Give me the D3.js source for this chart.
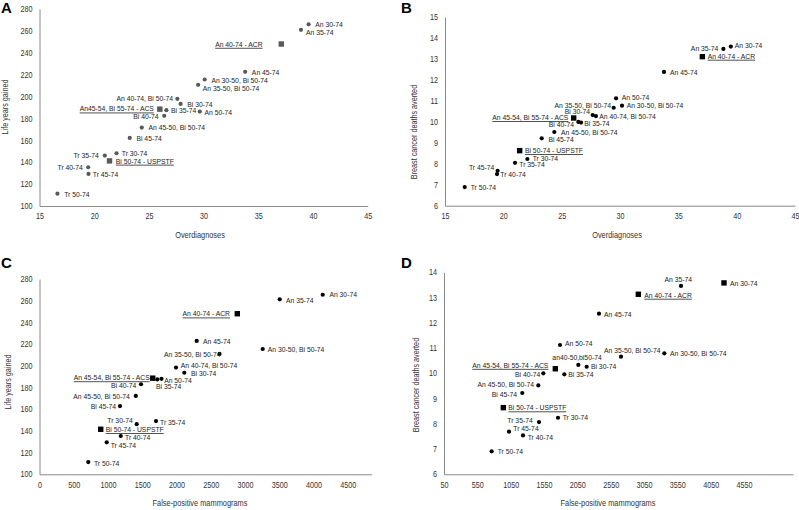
<!DOCTYPE html>
<html>
<head>
<meta charset="utf-8">
<script src="https://cdn.jsdelivr.net/npm/d3@7"></script>
<style>
body { margin: 0; background: #fff; }
svg { font-family: "Liberation Sans", Arial, sans-serif; }
</style>
</head>
<body>
<svg id="chart" width="799" height="510"></svg>
<script>
// each row: strategy label, x value, y value, marker ("pt" dot / "rec" square)
var pointsA = [
  ["An 30-74", 39.6, 266, "pt"],
  ["An 35-74", 38.9, 261, "pt"],
  ["An 40-74 - ACR", 37.1, 248, "rec"],
  ["An 45-74", 33.8, 222.6, "pt"],
  ["An 30-50, Bi 50-74", 30.1, 215.6, "pt"],
  ["An 35-50, Bi 50-74", 29.5, 210.7, "pt"],
  ["An 40-74, Bi 50-74", 27.6, 197.9, "pt"],
  ["Bi 30-74", 27.9, 193.3, "pt"],
  ["An45-54, Bi 55-74 - ACS", 26.0, 188.5, "rec"],
  ["Bi 35-74", 26.6, 187.6, "pt"],
  ["An 50-74", 29.65, 186.3, "pt"],
  ["Bi 40-74", 26.4, 182.4, "pt"],
  ["An 45-50, Bi 50-74", 24.35, 171.7, "pt"],
  ["Bi 45-74", 23.25, 162.2, "pt"],
  ["Tr 35-74", 20.97, 146.1, "pt"],
  ["Tr 30-74", 22.04, 148.2, "pt"],
  ["Bi 50-74 - USPSTF", 21.4, 141.2, "rec"],
  ["Tr 40-74", 19.45, 135.4, "pt"],
  ["Tr 45-74", 19.48, 129.3, "pt"],
  ["Tr 50-74", 16.64, 111.3, "pt"]
];

var pointsB = [
  ["An 30-74", 39.5, 13.6, "pt"],
  ["An 35-74", 38.86, 13.49, "pt"],
  ["An 40-74 - ACR", 37.06, 13.12, "rec"],
  ["An 45-74", 33.77, 12.39, "pt"],
  ["An 50-74", 29.66, 11.13, "pt"],
  ["An 35-50, Bi 50-74", 29.46, 10.68, "pt"],
  ["An 30-50, Bi 50-74", 30.17, 10.78, "pt"],
  ["Bi 30-74", 27.66, 10.33, "pt"],
  ["An 40-74, Bi 50-74", 27.94, 10.28, "pt"],
  ["An 45-54, Bi 55-74 - ACS", 26.03, 10.19, "rec"],
  ["Bi 40-74", 26.43, 10.0, "pt"],
  ["Bi 35-74", 26.66, 9.97, "pt"],
  ["An 45-50, Bi 50-74", 24.37, 9.52, "pt"],
  ["Bi 45-74", 23.29, 9.22, "pt"],
  ["Bi 50-74 - USPSTF", 21.4, 8.63, "rec"],
  ["Tr 30-74", 22.06, 8.23, "pt"],
  ["Tr 35-74", 21.0, 8.05, "pt"],
  ["Tr 45-74", 19.51, 7.67, "pt"],
  ["Tr 40-74", 19.46, 7.51, "pt"],
  ["Tr 50-74", 16.69, 6.89, "pt"]
];

var pointsC = [
  ["An 30-74", 4135, 265.5, "pt"],
  ["An 35-74", 3507, 261.3, "pt"],
  ["An 40-74 - ACR", 2888, 248.0, "rec"],
  ["An 45-74", 2295, 222.9, "pt"],
  ["An 30-50, Bi 50-74", 3259, 215.5, "pt"],
  ["An 35-50, Bi 50-74", 2628, 210.9, "pt"],
  ["An 40-74, Bi 50-74", 1993, 198.4, "pt"],
  ["Bi 30-74", 2114, 193.6, "pt"],
  ["An 45-54, Bi 55-74 - ACS", 1653, 188.6, "rec"],
  ["Bi 35-74", 1720, 187.4, "pt"],
  ["An 50-74", 1781, 188.0, "pt"],
  ["Bi 40-74", 1482, 183.0, "pt"],
  ["An 45-50, Bi 50-74", 1406, 172.2, "pt"],
  ["Bi 45-74", 1175, 162.9, "pt"],
  ["Tr 30-74", 1419, 146.2, "pt"],
  ["Tr 35-74", 1701, 149.1, "pt"],
  ["Bi 50-74 - USPSTF", 894, 141.5, "rec"],
  ["Tr 40-74", 1186, 135.3, "pt"],
  ["Tr 45-74", 981, 129.5, "pt"],
  ["Tr 50-74", 712, 111.3, "pt"]
];

var pointsD = [
  ["An 30-74", 4250, 13.58, "rec"],
  ["An 35-74", 3605, 13.46, "pt"],
  ["An 40-74 - ACR", 2965, 13.13, "rec"],
  ["An 45-74", 2375, 12.36, "pt"],
  ["An 50-74", 1790, 11.12, "pt"],
  ["An 35-50, Bi 50-74", 2705, 10.66, "pt"],
  ["An 30-50, Bi 50-74", 3355, 10.79, "pt"],
  ["an40-50,bi50-74", 2065, 10.33, "pt"],
  ["Bi 30-74", 2190, 10.26, "pt"],
  ["An 45-54, Bi 55-74 - ACS", 1720, 10.18, "rec"],
  ["Bi 40-74", 1540, 10.0, "pt"],
  ["Bi 35-74", 1855, 9.96, "pt"],
  ["An 45-50, Bi 50-74", 1465, 9.52, "pt"],
  ["Bi 45-74", 1224, 9.22, "pt"],
  ["Bi 50-74 - USPSTF", 940, 8.64, "rec"],
  ["Tr 30-74", 1760, 8.24, "pt"],
  ["Tr 35-74", 1475, 8.07, "pt"],
  ["Tr 45-74", 1025, 7.69, "pt"],
  ["Tr 40-74", 1235, 7.54, "pt"],
  ["Tr 50-74", 765, 6.91, "pt"]
];

// tick labels
var ticksOverdiag = [15, 20, 25, 30, 35, 40, 45];
var ticksLifeYears = [100, 120, 140, 160, 180, 200, 220, 240, 260, 280];
var ticksDeathsB = [6, 7, 8, 9, 10, 11, 12, 13, 14, 15];
var ticksFalsePosC = [0, 500, 1000, 1500, 2000, 2500, 3000, 3500, 4000, 4500];
var ticksFalsePosD = [50, 550, 1050, 1550, 2050, 2550, 3050, 3550, 4050, 4550];
var ticksDeathsD = [6, 7, 8, 9, 10, 11, 12, 13, 14];

// label offsets in px from the marker: [dx, dy, anchor?]
var labelPosA = [[6.7,0],[5,2.7],[-18.7,0],[6.7,0],[6.7,0.3],[4.7,3],[-4.3,-0.3],[6.7,0.3],[-6,-0.4],[4.7,0],
  [4.7,0.7],[-5.7,0.6],[6.7,0],[6.7,0.3],[-6,0],[5.3,0.3],[6.3,0],[-5.3,-0.3],[4.3,0],[6.7,0.3]];
var labelPosB = [[4,-1],[-5,-0.3],[5.3,-0.7],[6,0.7],[5.7,-1.3],[-2.7,-2.7],[4.7,-0.3],[-2.7,-3.6],[3.3,0],[-5.3,-0.7],
  [-4.3,2.5],[3.3,0.3],[6.7,0.3],[6.7,1],[5.3,-0.3],[5.3,-0.7],[4.3,1.7],[-3.3,-3.3],[3.3,-0.3],[6,0]];
var labelPosC = [[6.7,-0.7],[6.3,0.7],[-7.3,0],[6.3,0],[5,0.3],[1,0,"end"],[4.7,-2.3],[6.7,0.7],[-3,-0.6],[-1.3,6.6,"start"],
  [2.7,1.3],[-4.7,0.6],[-6,0],[-4,0.7],[-4,-4],[4,1.3],[5,0],[4.3,1.3],[4,3],[5.7,1]];
var labelPosD = [[6,0.7],[-2.7,-7,"middle"],[6,0.7],[5,0.7],[5,-1.7],[-17,-6.3,"start"],[5.7,0],[-1.3,-7.3,"middle"],[4.3,0],[-7,-3.7],
  [-3,0.7],[4,0],[-4.3,-1],[-5.3,1],[5,0],[4.7,-0.7],[-6.3,-2],[4.3,-3],[4.7,2.3],[6,0]];

var svg = d3.select("#chart");
var SQ = 0.87; // narrow the glyphs a bit, the source used a condensed face

// move x/y into a transform so the text can be narrowed horizontally
var squeeze = (sel, k, rot) => {
  sel.each(function() {
    var t = d3.select(this);
    var x = +t.attr("x") || 0, y = +t.attr("y") || 0;
    t.attr("x", 0).attr("y", 0)
     .attr("transform", `translate(${x},${y})${rot ? " rotate(" + rot + ")" : ""} scale(${k},1)`);
  });
};

var panels = [
  {letter: "A", lx: 1, ly: 13, data: pointsA, pos: labelPosA, color: "#595959",
   xDomain: [15, 45], xRange: [39.5, 367.7], yDomain: [100, 280], yRange: [206, 9],
   xTicks: ticksOverdiag, yTicks: ticksLifeYears,
   xTitle: "Overdiagnoses", xtX: 200, xtY: 238, yTitle: "Life years gained", ytX: 8, ytY: 107},
  {letter: "B", lx: 401, ly: 13, data: pointsB, pos: labelPosB, color: "#000",
   xDomain: [15, 45], xRange: [445, 795], yDomain: [6, 15], yRange: [205.7, 17.3],
   xTicks: ticksOverdiag, yTicks: ticksDeathsB,
   xTitle: "Overdiagnoses", xtX: 617, xtY: 238, yTitle: "Breast cancer deaths averted", ytX: 417, ytY: 132},
  {letter: "C", lx: 1, ly: 268, data: pointsC, pos: labelPosC, color: "#000",
   xDomain: [0, 4850], xRange: [39.5, 371.7], yDomain: [100, 280], yRange: [474.3, 279],
   xTicks: ticksFalsePosC, yTicks: ticksLifeYears,
   xTitle: "False-positive mammograms", xtX: 200, xtY: 506, yTitle: "Life years gained", ytX: 11, ytY: 382},
  {letter: "D", lx: 401, ly: 268, data: pointsD, pos: labelPosD, color: "#000",
   xDomain: [50, 5285], xRange: [444, 793], yDomain: [6, 14], yRange: [474.3, 272.3],
   xTicks: ticksFalsePosD, yTicks: ticksDeathsD,
   xTitle: "False-positive mammograms", xtX: 608, xtY: 506, yTitle: "Breast cancer deaths averted", ytX: 419, ytY: 385}
];

var drawPanel = p => {
  var g = svg.append("g");

  var xScale = d3.scaleLinear().domain(p.xDomain).range(p.xRange);
  var yScale = d3.scaleLinear().domain(p.yDomain).range(p.yRange);

  var yAxisG = g.append("g")
      .attr("transform", `translate(${p.xRange[0]},0)`)
      .call(d3.axisLeft(yScale).tickValues(p.yTicks).tickFormat(d3.format("d"))
        .tickSize(0).tickSizeOuter(0).tickPadding(7));

  var xAxisG = g.append("g")
      .attr("transform", `translate(0,${p.yRange[0]})`)
      .call(d3.axisBottom(xScale).tickValues(p.xTicks).tickFormat(d3.format("d"))
        .tickSize(0).tickSizeOuter(0).tickPadding(7.5));

  [yAxisG, xAxisG].forEach(a => {
    a.attr("font-family", null).attr("font-size", 8.3);
    a.select(".domain").attr("stroke", "#8a8a8a").attr("stroke-width", 1);
    a.selectAll(".tick text").attr("fill", "#333").call(squeeze, SQ);
  });

  g.append("text")
      .attr("x", p.xtX).attr("y", p.xtY)
      .attr("text-anchor", "middle")
      .attr("font-size", 8.6).attr("fill", "#333")
      .text(p.xTitle)
      .call(squeeze, 0.86);

  g.append("text")
      .attr("x", p.ytX).attr("y", p.ytY)
      .attr("text-anchor", "middle")
      .attr("font-size", 8.4).attr("fill", "#333")
      .text(p.yTitle)
      .call(squeeze, 0.86, -90);

  g.append("text")
      .attr("x", p.lx).attr("y", p.ly)
      .attr("font-size", 15).attr("font-weight", "bold")
      .text(p.letter);

  g.selectAll("circle").data(p.data.filter(d => d[3] === "pt"))
    .enter().append("circle")
      .attr("cx", d => xScale(d[1]))
      .attr("cy", d => yScale(d[2]))
      .attr("r", 2.1)
      .attr("fill", p.color);

  g.selectAll("rect").data(p.data.filter(d => d[3] === "rec"))
    .enter().append("rect")
      .attr("x", d => xScale(d[1]) - 2.7)
      .attr("y", d => yScale(d[2]) - 2.7)
      .attr("width", 5.4).attr("height", 5.4)
      .attr("fill", p.color);

  g.selectAll(".pt-label").data(p.data)
    .enter().append("text")
      .attr("class", "pt-label")
      .attr("x", (d, i) => xScale(d[1]) + p.pos[i][0])
      .attr("y", (d, i) => yScale(d[2]) + p.pos[i][1])
      .attr("dy", "0.35em")
      .attr("font-size", 7.8)
      .attr("fill", "#222")
      .attr("text-anchor", (d, i) => p.pos[i][2] || (p.pos[i][0] < 0 ? "end" : "start"))
      .style("text-decoration", d => d[0].indexOf(" - ") > 0 ? "underline" : null)
      .text(d => d[0])
      .call(squeeze, SQ);
};

panels.forEach(drawPanel);
</script>
</body>
</html>
